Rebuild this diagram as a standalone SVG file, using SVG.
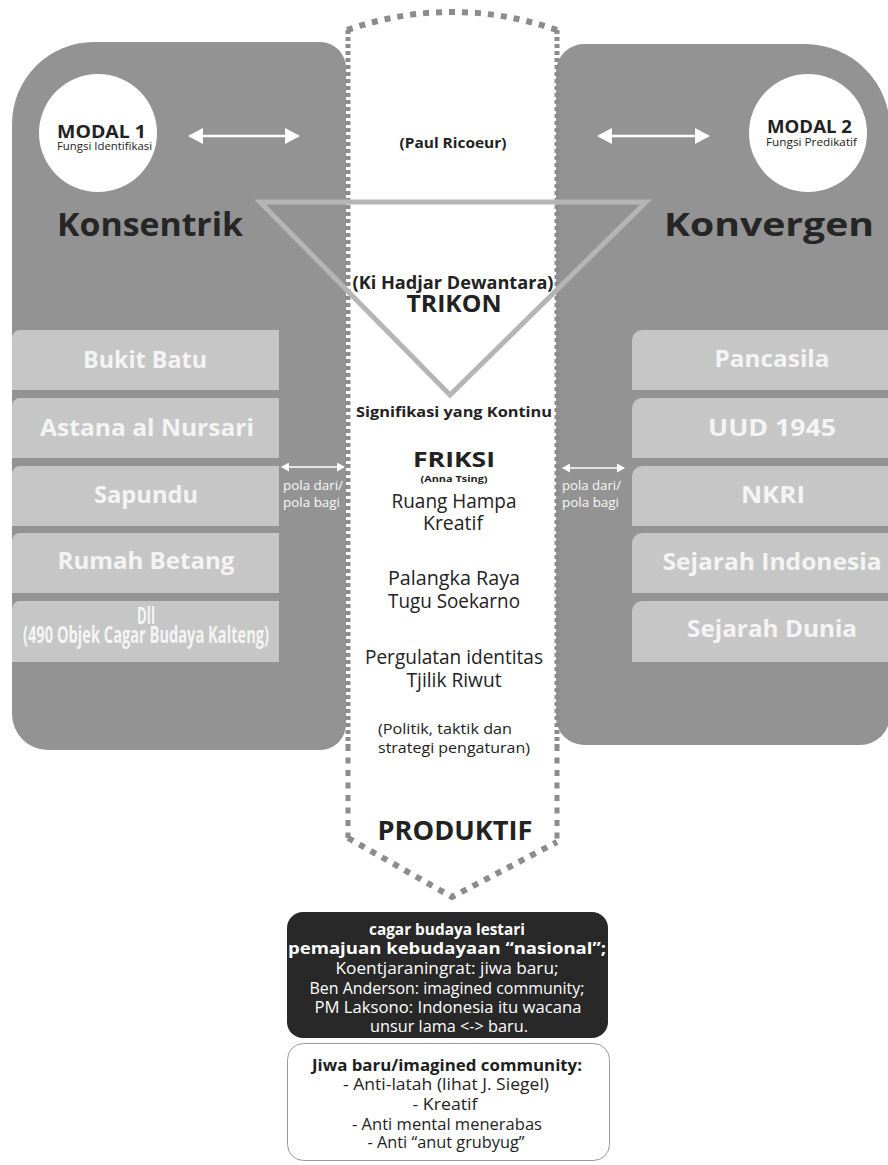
<svg xmlns="http://www.w3.org/2000/svg" width="888" height="1165" viewBox="0 0 888 1165">
<style>
text{font-family:"Open Sans","Noto Sans","DejaVu Sans",sans-serif}
.b{font-weight:700}
.dark{fill:#222}
.lbl{fill:#f4f4f4;font-weight:700;font-size:24px;text-anchor:middle}
.mid{text-anchor:middle}
.panel{fill:#939393}
.box{fill:#c6c6c6}
.dot{fill:none;stroke:#8c8c8c}
.arrow{stroke:#fff;fill:none}
.wt{fill:#f8f8f8}
</style>
<defs>
<marker id="bigHead" viewBox="0 0 15 16" refX="13" refY="8" markerWidth="15" markerHeight="16" markerUnits="userSpaceOnUse" orient="auto-start-reverse">
<path d="M0,0 L15,8 L0,16 z" fill="#fff"/>
</marker>
<marker id="smallHead" viewBox="0 0 8 9" refX="7" refY="4.5" markerWidth="8" markerHeight="9" markerUnits="userSpaceOnUse" orient="auto-start-reverse">
<path d="M0,0 L8,4.5 L0,9 z" fill="#fff"/>
</marker>
</defs>
<rect width="888" height="1165" fill="#fff"/>

<g id="panel-konsentrik">
<path class="panel" d="M94,42 H320 A26 26 0 0 1 346 68 V724 A26 26 0 0 1 320 750 H48 A36 36 0 0 1 12 714 V124 A82 82 0 0 1 94 42 Z"/>
<text class="b" x="57" y="236" font-size="33" fill="#262626" textLength="186" lengthAdjust="spacingAndGlyphs">Konsentrik</text>
</g>
<g id="panel-konvergen">
<path class="panel" d="M584,44 H805 A85 85 0 0 1 890 129 V715 A30 30 0 0 1 860 745 H584 A28 28 0 0 1 556 717 V72 A28 28 0 0 1 584 44 Z"/>
<text class="b" x="664" y="236" font-size="33" fill="#262626" textLength="210" lengthAdjust="spacingAndGlyphs">Konvergen</text>
</g>

<g id="center-column">
<path class="dot" stroke-width="6" stroke-dasharray="6 7" d="M347,30 Q452,-6 557,30"/>
<path class="dot" stroke-width="5" stroke-dasharray="4 3" d="M348,30 V745 M557,30 V745"/>
<path class="dot" stroke-width="5" stroke-dasharray="6 6.5" d="M348,745 V838 M557,745 V842"/>
<path class="dot" stroke-width="6" stroke-dasharray="6 7" d="M348,838 L452,897 L557,842"/>
</g>

<g id="list-left">
<g id="box-bukit-batu"><path class="box" d="M12,338 A8 8 0 0 1 20 330 H279 V390 H12 Z"/><text class="lbl" x="145" y="368" textLength="124" lengthAdjust="spacingAndGlyphs">Bukit Batu</text></g>
<g id="box-astana"><path class="box" d="M12,406 A8 8 0 0 1 20 398 H279 V458 H12 Z"/><text class="lbl" x="147" y="436" textLength="214" lengthAdjust="spacingAndGlyphs">Astana al Nursari</text></g>
<g id="box-sapundu"><path class="box" d="M12,474 A8 8 0 0 1 20 466 H279 V526 H12 Z"/><text class="lbl" x="146" y="503" textLength="104" lengthAdjust="spacingAndGlyphs">Sapundu</text></g>
<g id="box-rumah-betang"><path class="box" d="M12,541 A8 8 0 0 1 20 533 H279 V593 H12 Z"/><text class="lbl" x="146" y="569" textLength="177" lengthAdjust="spacingAndGlyphs">Rumah Betang</text></g>
<g id="box-dll"><path class="box" d="M12,609 A8 8 0 0 1 20 601 H279 V662 H12 Z"/>
<text class="lbl" x="146" y="624" font-size="12" textLength="18" lengthAdjust="spacingAndGlyphs">Dll</text>
<text class="lbl" x="146" y="643" font-size="13.5" textLength="246" lengthAdjust="spacingAndGlyphs">(490 Objek Cagar Budaya Kalteng)</text></g>
</g>

<g id="list-right">
<g id="box-pancasila"><path class="box" d="M632,340 A10 10 0 0 1 642 330 H890 V390 H632 Z"/><text class="lbl" x="772" y="367" textLength="115" lengthAdjust="spacingAndGlyphs">Pancasila</text></g>
<g id="box-uud"><path class="box" d="M632,408 A10 10 0 0 1 642 398 H890 V458 H632 Z"/><text class="lbl" x="772" y="436" textLength="128" lengthAdjust="spacingAndGlyphs">UUD 1945</text></g>
<g id="box-nkri"><path class="box" d="M632,476 A10 10 0 0 1 642 466 H890 V526 H632 Z"/><text class="lbl" x="773" y="503" textLength="64" lengthAdjust="spacingAndGlyphs">NKRI</text></g>
<g id="box-sejarah-indonesia"><path class="box" d="M632,543 A10 10 0 0 1 642 533 H890 V593 H632 Z"/><text class="lbl" x="772" y="570" textLength="219" lengthAdjust="spacingAndGlyphs">Sejarah Indonesia</text></g>
<g id="box-sejarah-dunia"><path class="box" d="M632,611 A10 10 0 0 1 642 601 H890 V662 H632 Z"/><text class="lbl" x="772" y="637" textLength="170" lengthAdjust="spacingAndGlyphs">Sejarah Dunia</text></g>
</g>

<g id="modal-1">
<circle cx="98" cy="133" r="59" fill="#fff"/>
<text class="b dark" x="57" y="138" font-size="17" textLength="89" lengthAdjust="spacingAndGlyphs">MODAL 1</text>
<text class="dark" x="57" y="150" font-size="10.5" textLength="95" lengthAdjust="spacingAndGlyphs">Fungsi Identifikasi</text>
</g>
<g id="modal-2">
<circle cx="808" cy="133" r="59" fill="#fff"/>
<text class="b dark" x="767" y="133" font-size="17" textLength="85" lengthAdjust="spacingAndGlyphs">MODAL 2</text>
<text class="dark" x="766" y="146" font-size="11" textLength="91" lengthAdjust="spacingAndGlyphs">Fungsi Predikatif</text>
</g>

<g id="trikon-triangle">
<path d="M260,202 H646 L450,395 Z" fill="none" stroke="#b5b5b5" stroke-width="5"/>
</g>

<g id="connectors">
<line class="arrow" x1="190" y1="136" x2="298" y2="136" stroke-width="2.5" marker-start="url(#bigHead)" marker-end="url(#bigHead)"/>
<line class="arrow" x1="599" y1="136" x2="708" y2="136" stroke-width="2.5" marker-start="url(#bigHead)" marker-end="url(#bigHead)"/>
<line class="arrow" x1="282" y1="467" x2="344" y2="467" stroke-width="1.3" marker-start="url(#smallHead)" marker-end="url(#smallHead)"/>
<line class="arrow" x1="563" y1="468" x2="624" y2="468" stroke-width="1.3" marker-start="url(#smallHead)" marker-end="url(#smallHead)"/>
</g>

<g id="pola-left">
<text class="wt" x="283" y="490" font-size="12.5" textLength="60" lengthAdjust="spacingAndGlyphs">pola dari/</text>
<text class="wt" x="283" y="507" font-size="12.5" textLength="57" lengthAdjust="spacingAndGlyphs">pola bagi</text>
</g>
<g id="pola-right">
<text class="wt" x="562" y="490" font-size="12.5" textLength="59" lengthAdjust="spacingAndGlyphs">pola dari/</text>
<text class="wt" x="562" y="507" font-size="12.5" textLength="57" lengthAdjust="spacingAndGlyphs">pola bagi</text>
</g>

<g id="center-texts" class="dark">
<text class="b mid" x="453" y="148" font-size="15" textLength="107" lengthAdjust="spacingAndGlyphs">(Paul Ricoeur)</text>
<text class="b mid" x="453" y="289" font-size="17" textLength="201" lengthAdjust="spacingAndGlyphs">(Ki Hadjar Dewantara)</text>
<text class="b mid" x="454" y="312" font-size="24" textLength="95" lengthAdjust="spacingAndGlyphs">TRIKON</text>
<text class="b mid" x="454" y="417" font-size="15" textLength="196" lengthAdjust="spacingAndGlyphs">Signifikasi yang Kontinu</text>
<text class="b mid" x="454" y="467" font-size="22" textLength="82" lengthAdjust="spacingAndGlyphs">FRIKSI</text>
<text class="b mid" x="454" y="482" font-size="9" textLength="67" lengthAdjust="spacingAndGlyphs">(Anna Tsing)</text>
<text class="mid" x="454" y="508" font-size="19.5" textLength="125" lengthAdjust="spacingAndGlyphs">Ruang Hampa</text>
<text class="mid" x="453" y="530" font-size="19.5" textLength="60" lengthAdjust="spacingAndGlyphs">Kreatif</text>
<text class="mid" x="454" y="585" font-size="19.5" textLength="132" lengthAdjust="spacingAndGlyphs">Palangka Raya</text>
<text class="mid" x="454" y="608" font-size="19.5" textLength="132" lengthAdjust="spacingAndGlyphs">Tugu Soekarno</text>
<text class="mid" x="454" y="664" font-size="19.5" textLength="178" lengthAdjust="spacingAndGlyphs">Pergulatan identitas</text>
<text class="mid" x="454" y="687" font-size="19.5" textLength="95" lengthAdjust="spacingAndGlyphs">Tjilik Riwut</text>
<text x="378" y="734" font-size="15" textLength="134" lengthAdjust="spacingAndGlyphs">(Politik, taktik dan</text>
<text x="378" y="753" font-size="15" textLength="152" lengthAdjust="spacingAndGlyphs">strategi pengaturan)</text>
<text class="b mid" x="455" y="840" font-size="26" textLength="155" lengthAdjust="spacingAndGlyphs">PRODUKTIF</text>
</g>

<g id="result-box">
<rect x="287" y="912" width="321" height="126" rx="16" fill="#282828"/>
<g fill="#fff">
<text class="b mid" x="447" y="935" font-size="15.5" textLength="156" lengthAdjust="spacingAndGlyphs">cagar budaya lestari</text>
<text class="b mid" x="447" y="954" font-size="15.5" textLength="318" lengthAdjust="spacingAndGlyphs">pemajuan kebudayaan “nasional”;</text>
<text class="mid" x="447" y="974" font-size="15.5" textLength="223" lengthAdjust="spacingAndGlyphs">Koentjaraningrat: jiwa baru;</text>
<text class="mid" x="447" y="994" font-size="15.5" textLength="275" lengthAdjust="spacingAndGlyphs">Ben Anderson: imagined community;</text>
<text class="mid" x="448" y="1013" font-size="15.5" textLength="267" lengthAdjust="spacingAndGlyphs">PM Laksono: Indonesia itu wacana</text>
<text class="mid" x="449" y="1032" font-size="15.5" textLength="158" lengthAdjust="spacingAndGlyphs">unsur lama &lt;-&gt; baru.</text>
</g>
</g>

<g id="jiwa-baru-box">
<rect x="287.5" y="1043.5" width="322" height="117" rx="16" fill="#fff" stroke="#9a9a9a" stroke-width="1"/>
<g fill="#1e1e1e">
<text class="b mid" x="447" y="1071" font-size="15.5" textLength="270" lengthAdjust="spacingAndGlyphs">Jiwa baru/imagined community:</text>
<text class="mid" x="446" y="1090" font-size="15.5" textLength="206" lengthAdjust="spacingAndGlyphs">- Anti-latah (lihat J. Siegel)</text>
<text class="mid" x="445" y="1110" font-size="15.5" textLength="65" lengthAdjust="spacingAndGlyphs">- Kreatif</text>
<text class="mid" x="447" y="1130" font-size="15.5" textLength="190" lengthAdjust="spacingAndGlyphs">- Anti mental menerabas</text>
<text class="mid" x="446" y="1148" font-size="15.5" textLength="157" lengthAdjust="spacingAndGlyphs">- Anti “anut grubyug”</text>
</g>
</g>
</svg>
